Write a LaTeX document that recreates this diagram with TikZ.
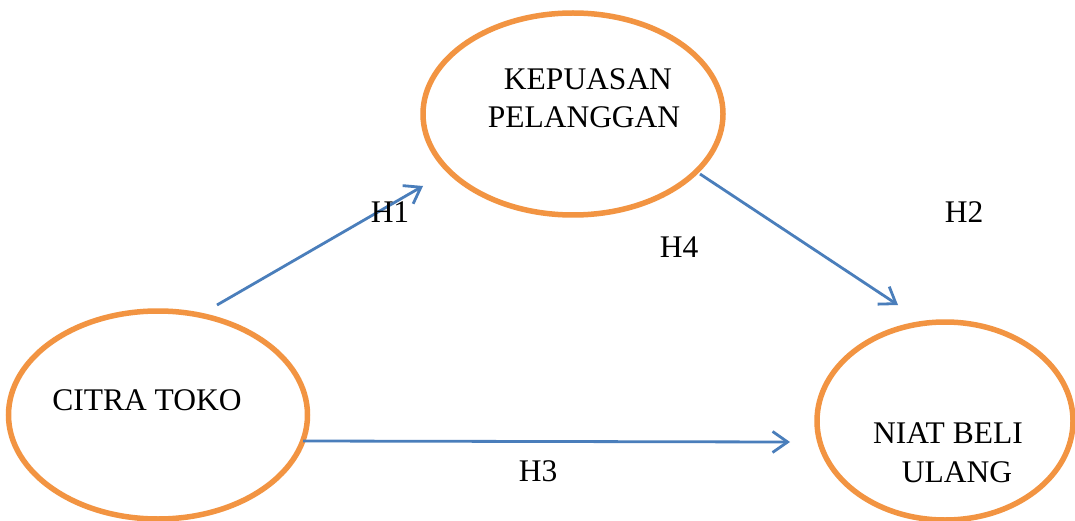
\documentclass[tikz,border=0pt]{standalone}
\usepackage{fontspec}
\setmainfont{Liberation Serif}
\usetikzlibrary{shapes.geometric,arrows.meta}
\definecolor{ellorange}{RGB}{242,148,66}
\definecolor{arrblue}{RGB}{74,126,187}
\begin{document}
\begin{tikzpicture}[x=1pt,y=-1pt,
  ell/.style={ellipse,draw=ellorange,line width=5.5pt,fill=white,inner sep=0pt},
  lbl/.style={anchor=base,inner sep=0pt,font=\fontsize{31.5}{37}\selectfont},
  conn/.style={draw=arrblue,line width=2.8pt,-{Straight Barb[length=15pt,width=21pt]}}]
\useasboundingbox (0,0) rectangle (1075,521);
\fill[white] (0,0) rectangle (1075,521);
% ellipses
\node[ell,minimum width=300pt,minimum height=202pt] (kp) at (573,114) {};
\node[ell,minimum width=299pt,minimum height=208pt] (ct) at (158,415) {};
\node[ell,minimum width=256pt,minimum height=198pt] (nb) at (945,421) {};
% texts
\node[lbl] (kp1) at (588,90) {KEPUASAN};
\node[lbl] (kp2) at (584,128) {PELANGGAN};
\node[lbl] (ct1) at (147,410) {CITRA TOKO};
\node[lbl] (nb1) at (948,443) {NIAT BELI};
\node[lbl] (nb2) at (957,482) {ULANG};
% connector ends
\coordinate (h1s) at (217,305);
\coordinate (h1e) at (423,186);
\coordinate (h4s) at (700,174);
\coordinate (h4e) at (898,305);
\coordinate (h3s) at (303,441);
\coordinate (h3e) at (790,442);
\draw[conn] (h1s) -- (h1e);
\draw[conn] (h4s) -- (h4e);
\draw[conn] (h3s) -- (h3e);
% labels
\node[lbl] (H1) at (390,223) {H1};
\node[lbl] (H2) at (964,223) {H2};
\node[lbl] (H4) at (679,257) {H4};
\node[lbl] (H3) at (538,481) {H3};
\end{tikzpicture}
\end{document}
